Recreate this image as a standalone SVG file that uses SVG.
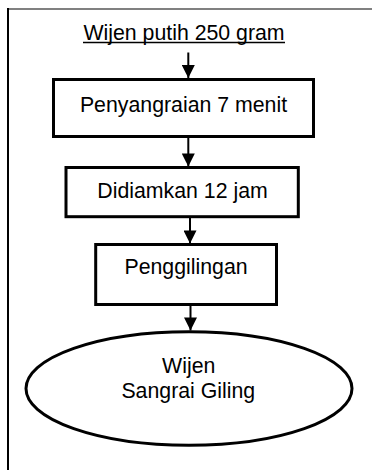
<svg xmlns="http://www.w3.org/2000/svg" width="372" height="470" viewBox="0 0 372 470">
<style>
.box{fill:#fff;stroke:#000;stroke-width:3}
.t{font-family:"Liberation Sans",Arial,sans-serif;font-size:21.3px;fill:#000;text-anchor:middle}
.c{stroke:#000;stroke-width:2;fill:none}
</style>
<defs>
<marker id="ah" markerUnits="userSpaceOnUse" markerWidth="14" markerHeight="13" refX="14" refY="7" orient="auto" viewBox="0 0 14 14">
<path d="M0,0 L14,7 L0,14 Z" fill="#000"/>
</marker>
</defs>
<rect width="372" height="470" fill="#fff"/>
<g id="frame">
<line x1="7" y1="9" x2="372" y2="9" stroke="#808080" stroke-width="2"/>
<line x1="8" y1="8" x2="8" y2="470" stroke="#000" stroke-width="2"/>
</g>
<g id="connectors">
<line class="c" x1="188.3" y1="52.5" x2="188.3" y2="78" marker-end="url(#ah)"/>
<line class="c" x1="188.3" y1="138" x2="188.3" y2="166.5" marker-end="url(#ah)"/>
<line class="c" x1="190" y1="218" x2="190" y2="243.5" marker-end="url(#ah)"/>
<line class="c" x1="190.5" y1="305.5" x2="190.5" y2="330.5" marker-end="url(#ah)"/>
</g>
<g id="start">
<text class="t" x="184" y="39.5">Wijen putih 250 gram</text>
<line x1="83" y1="42.5" x2="285" y2="42.5" stroke="#000" stroke-width="1.4"/>
</g>
<g id="n1">
<rect class="box" x="53.5" y="79.5" width="260" height="57"/>
<text class="t" x="183.5" y="111.7">Penyangraian 7 menit</text>
</g>
<g id="n2">
<rect class="box" x="66" y="167.5" width="232.3" height="49.2"/>
<text class="t" x="182.5" y="198.3">Didiamkan 12 jam</text>
</g>
<g id="n3">
<rect class="box" x="95.7" y="244.5" width="180.8" height="60"/>
<text class="t" x="186" y="274">Penggilingan</text>
</g>
<g id="end">
<ellipse class="box" cx="189" cy="388.5" rx="163" ry="56.8"/>
<text class="t" x="188.7" y="373.3">Wijen</text>
<text class="t" x="188.3" y="398.3">Sangrai Giling</text>
</g>
</svg>
